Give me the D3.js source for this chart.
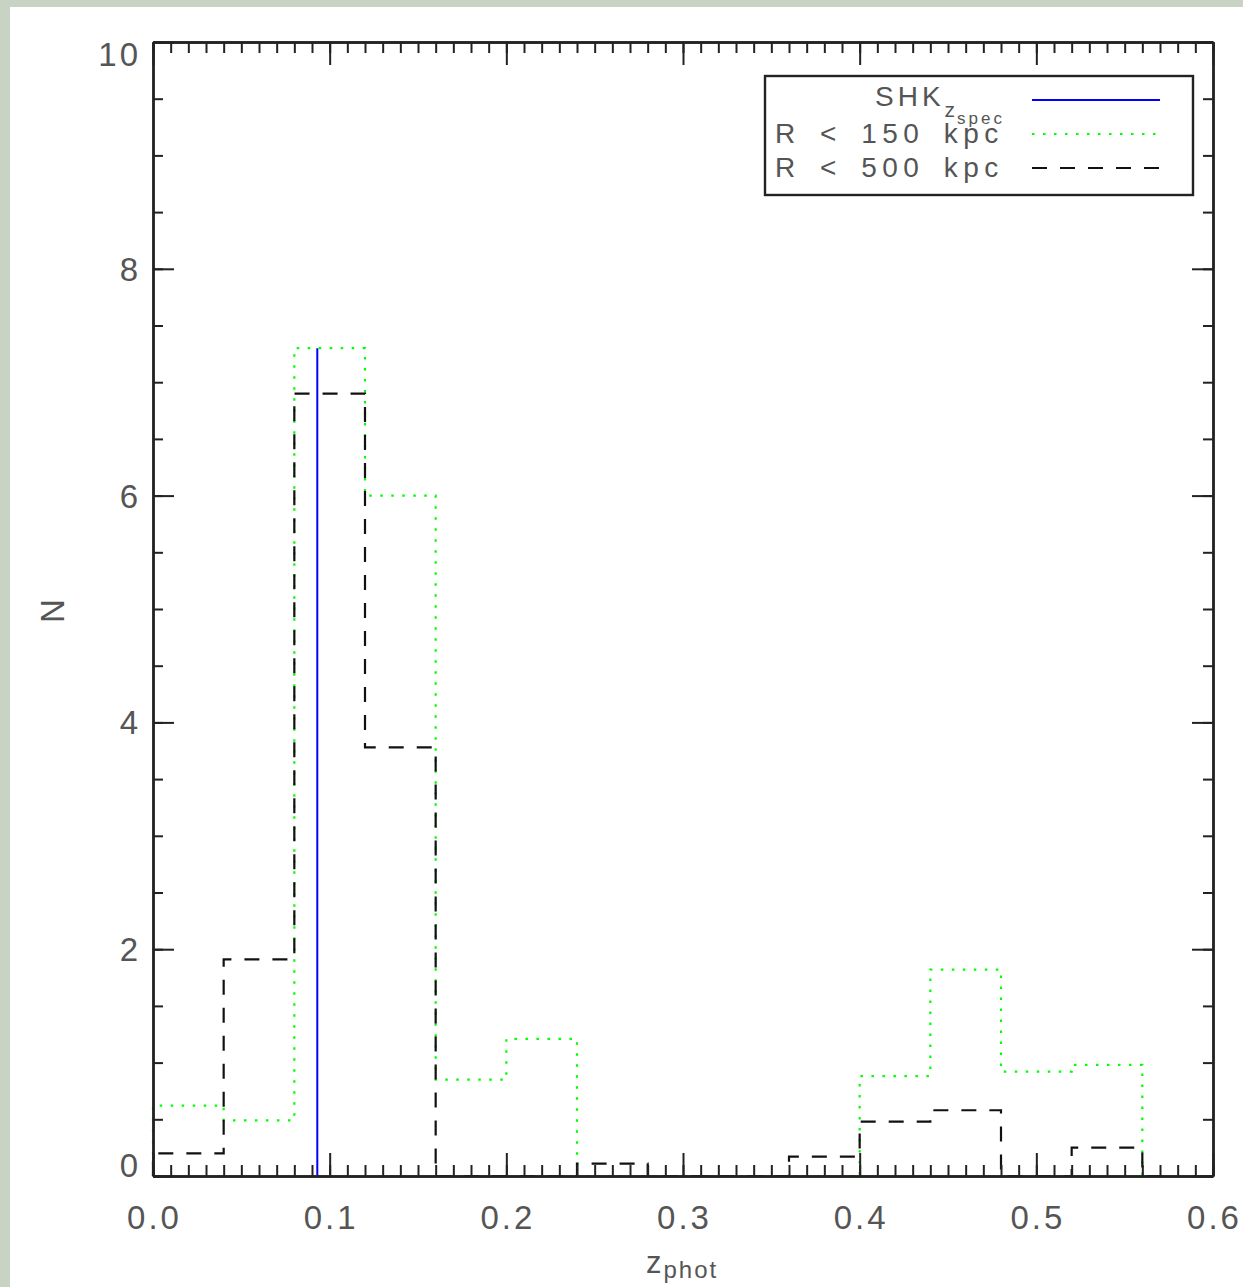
<!DOCTYPE html>
<html>
<head>
<meta charset="utf-8">
<script src="https://cdn.jsdelivr.net/npm/d3@7"></script>
<style>
  html, body { margin: 0; padding: 0; background: #c8d3c3; }
  svg { display: block; }
  text { font-family: "Liberation Sans", Arial, sans-serif; fill: #555; }
</style>
</head>
<body>
<script>
// Histogram bin lower edges (width 0.04)
const binWidth = 0.04;
const binStarts = [0.00, 0.04, 0.08, 0.12, 0.16, 0.20, 0.24, 0.28, 0.32, 0.36, 0.40, 0.44, 0.48, 0.52];
// Counts per bin for the two aperture radii
const countsR150 = [0.62, 0.49, 7.30, 6.00, 0.85, 1.21, 0.00, 0.00, 0.00, 0.00, 0.88, 1.82, 0.92, 0.98];
const countsR500 = [0.20, 1.91, 6.90, 3.78, 0.00, 0.00, 0.11, 0.00, 0.00, 0.17, 0.48, 0.58, 0.00, 0.25];
// Trailing zero run after the last bin
const histEnd = 0.572;
// Spectroscopic redshift marker
const zSpec = 0.093;

// Axis ticks and labels
const xMajorTicks = [0.0, 0.1, 0.2, 0.3, 0.4, 0.5, 0.6];
const xTickLabels = ["0.0", "0.1", "0.2", "0.3", "0.4", "0.5", "0.6"];
const yMajorTicks = [0, 2, 4, 6, 8, 10];
const yTickLabels = ["0", "2", "4", "6", "8", "10"];
const legendLabels = ["R < 150 kpc", "R < 500 kpc"];

const W = 1243, H = 1287;
const plot = { left: 153, right: 1213, top: 42, bottom: 1176 };

const svg = d3.select("body").append("svg").attr("width", W).attr("height", H);

// white page panel
svg.append("rect").attr("x", 10).attr("y", 7).attr("width", W - 10).attr("height", H - 7).attr("fill", "#ffffff");

const x = d3.scaleLinear().domain([0, 0.6]).range([plot.left, plot.right]);
const y = d3.scaleLinear().domain([0, 10]).range([plot.bottom, plot.top]);

// step outline of a histogram
function stepPoints(counts) {
  const pts = [[binStarts[0], 0]];
  counts.forEach((c, i) => {
    pts.push([binStarts[i], c]);
    pts.push([binStarts[i] + binWidth, c]);
  });
  pts.push([binStarts[binStarts.length - 1] + binWidth, 0]);
  pts.push([histEnd, 0]);
  return pts;
}
const line = d3.line().x(d => x(d[0])).y(d => y(d[1]));

svg.append("path").attr("d", line(stepPoints(countsR150)))
  .attr("fill", "none").attr("stroke", "#00ff00").attr("stroke-width", 2.2)
  .attr("stroke-dasharray", "2.5,8.5");
svg.append("path").attr("d", line(stepPoints(countsR500)))
  .attr("fill", "none").attr("stroke", "#111").attr("stroke-width", 2.2)
  .attr("stroke-dasharray", "15,13");

// spectroscopic redshift line, as tall as the highest bin
svg.append("line")
  .attr("x1", x(zSpec)).attr("x2", x(zSpec))
  .attr("y1", y(0)).attr("y2", y(d3.max(countsR150)))
  .attr("stroke", "#0000ff").attr("stroke-width", 2);

const xMinor = d3.range(0, 61).map(i => i / 100);
const yMinor = d3.range(0, 21).map(i => i / 2);

const axisColor = "#222";

function styleAxis(g) {
  g.selectAll("path.domain").attr("stroke", axisColor).attr("stroke-width", 2.4);
  g.selectAll(".tick line").attr("stroke", axisColor).attr("stroke-width", 2);
  g.selectAll(".tick text").remove();
}

// bottom and top axes (inward ticks)
svg.append("g").attr("transform", `translate(0,${plot.bottom})`)
  .call(d3.axisBottom(x).tickValues(xMinor).tickSize(-11).tickSizeOuter(0).tickFormat("")).call(styleAxis);
svg.append("g").attr("transform", `translate(0,${plot.bottom})`)
  .call(d3.axisBottom(x).tickValues(xMajorTicks).tickSize(-23).tickSizeOuter(0).tickFormat("")).call(styleAxis);
svg.append("g").attr("transform", `translate(0,${plot.top})`)
  .call(d3.axisTop(x).tickValues(xMinor).tickSize(-11).tickSizeOuter(0).tickFormat("")).call(styleAxis);
svg.append("g").attr("transform", `translate(0,${plot.top})`)
  .call(d3.axisTop(x).tickValues(xMajorTicks).tickSize(-23).tickSizeOuter(0).tickFormat("")).call(styleAxis);

// left and right axes (inward ticks)
svg.append("g").attr("transform", `translate(${plot.left},0)`)
  .call(d3.axisLeft(y).tickValues(yMinor).tickSize(-10).tickSizeOuter(0).tickFormat("")).call(styleAxis);
svg.append("g").attr("transform", `translate(${plot.left},0)`)
  .call(d3.axisLeft(y).tickValues(yMajorTicks).tickSize(-21).tickSizeOuter(0).tickFormat("")).call(styleAxis);
svg.append("g").attr("transform", `translate(${plot.right},0)`)
  .call(d3.axisRight(y).tickValues(yMinor).tickSize(-10).tickSizeOuter(0).tickFormat("")).call(styleAxis);
svg.append("g").attr("transform", `translate(${plot.right},0)`)
  .call(d3.axisRight(y).tickValues(yMajorTicks).tickSize(-21).tickSizeOuter(0).tickFormat("")).call(styleAxis);

// tick labels
svg.append("g").selectAll("text").data(xMajorTicks).join("text")
  .attr("x", d => x(d) + 1.5).attr("y", plot.bottom + 53)
  .attr("text-anchor", "middle").attr("font-size", 33).attr("letter-spacing", 3)
  .text((d, i) => xTickLabels[i]);

svg.append("g").selectAll("text").data(yMajorTicks).join("text")
  .attr("x", 141)
  .attr("y", d => Math.max(plot.top + 11.5, Math.min(plot.bottom - 11, y(d))) + 12)
  .attr("text-anchor", "end").attr("font-size", 33).attr("letter-spacing", 3)
  .text((d, i) => yTickLabels[i]);

// axis titles
svg.append("text").attr("transform", `translate(64,611) rotate(-90)`)
  .attr("text-anchor", "middle").attr("font-size", 33).text("N");
const xt = svg.append("text").attr("x", 646).attr("y", 1273);
xt.append("tspan").attr("font-size", 31).text("z");
xt.append("tspan").attr("font-size", 24).attr("letter-spacing", 2).attr("dx", 2).attr("dy", 5).text("phot");

// legend
const lg = svg.append("g");
lg.append("rect").attr("x", 765).attr("y", 76).attr("width", 428).attr("height", 119)
  .attr("fill", "#fff").attr("stroke", axisColor).attr("stroke-width", 2.4);

legendLabels.forEach((s, i) => {
  lg.append("text").attr("x", 775).attr("y", 143 + i * 34)
    .attr("font-size", 28).attr("letter-spacing", 5.5).attr("word-spacing", 6)
    .text(s);
});

const t0 = lg.append("text").attr("x", 875).attr("y", 106);
t0.append("tspan").attr("font-size", 28).attr("letter-spacing", 4).text("SHK");
t0.append("tspan").attr("font-size", 21).attr("dy", 11).attr("dx", 0).text("z");
t0.append("tspan").attr("font-size", 17).attr("letter-spacing", 3).attr("dy", 7).attr("dx", 2).text("spec");

const legendStyles = [
  { stroke: "#0000ff", dash: null },
  { stroke: "#00ff00", dash: "2.5,8.5" },
  { stroke: "#111", dash: "15,13" }
];
legendStyles.forEach((st, i) => {
  const l = lg.append("line").attr("x1", 1032).attr("x2", 1160)
    .attr("y1", 100 + i * 34).attr("y2", 100 + i * 34)
    .attr("stroke", st.stroke).attr("stroke-width", 2.2);
  if (st.dash) l.attr("stroke-dasharray", st.dash);
});
</script>
</body>
</html>
